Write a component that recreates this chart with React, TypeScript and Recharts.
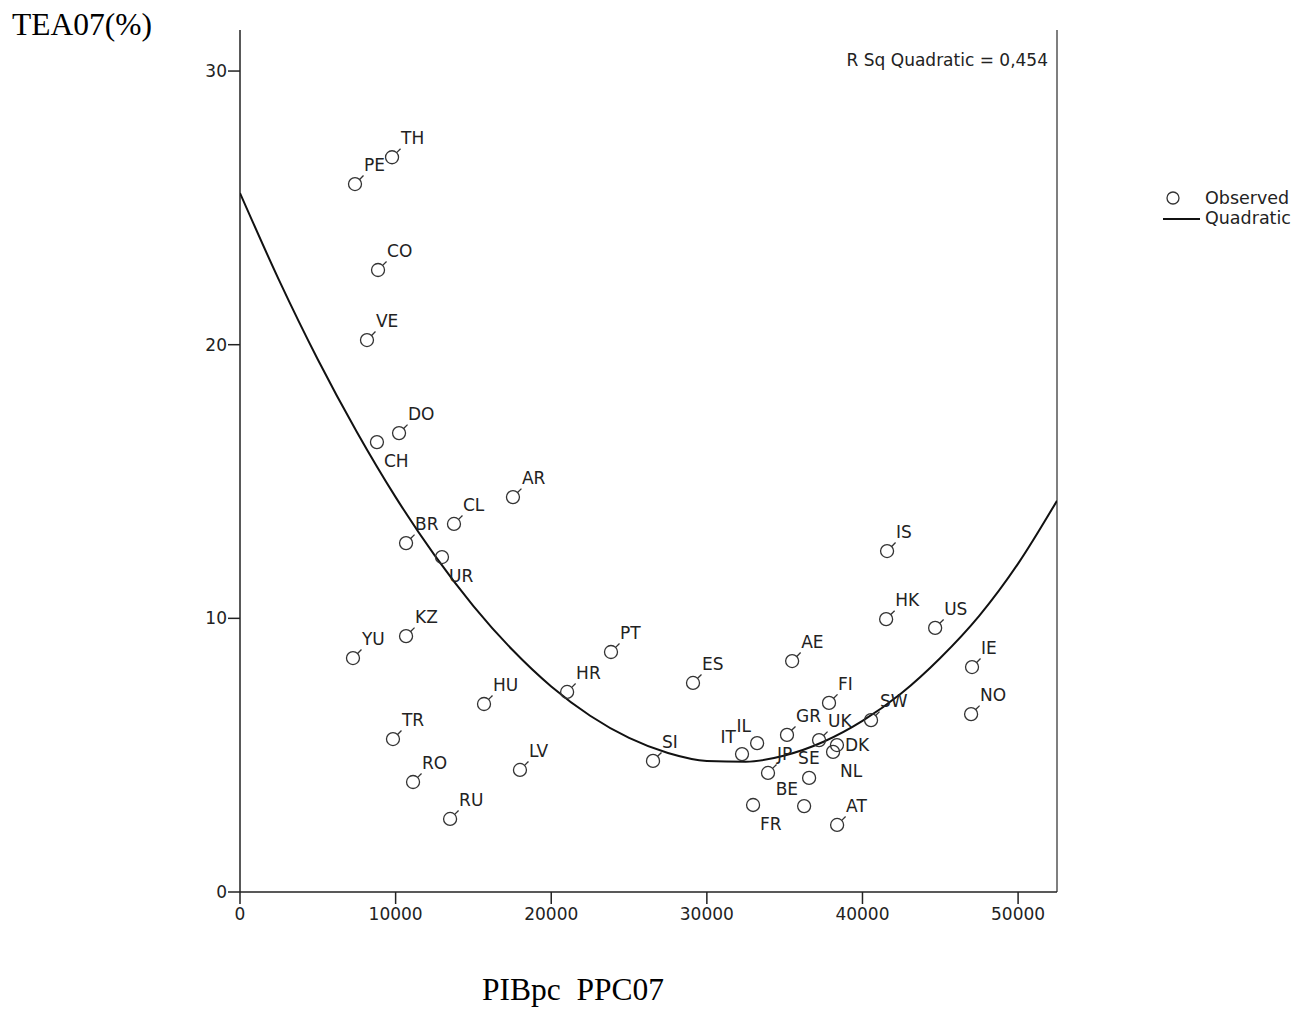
import React from "react";
import { ScatterChart, Scatter, XAxis, YAxis, ReferenceLine } from "recharts";

// GEM 2007 country codes, GDP per capita (PPP) and TEA rate
const countries = [
  "TH", "PE", "CO", "VE", "CH", "DO", "AR", "CL", "BR", "UR",
  "YU", "KZ", "HU", "HR", "TR", "RO", "LV", "RU", "PT", "ES",
  "AE", "SI", "IT", "IL", "GR", "FI", "JP", "SE", "BE", "FR",
  "AT", "UK", "DK", "NL", "SW", "IS", "HK", "US", "IE", "NO",
];
const gdpPc = [
  9770, 7390, 8870, 8160, 8800, 10220, 17540, 13750, 10670, 12980,
  7260, 10670, 15680, 21020, 9830, 11120, 17990, 13500, 23840, 29110,
  35480, 26540, 32260, 33230, 35150, 37850, 33930, 36570, 36250, 32970,
  38370, 37210, 38360, 38110, 40550, 41580, 41520, 44670, 47040, 46980,
];
const tea = [
  26.85, 25.87, 22.73, 20.17, 16.44, 16.77, 14.43, 13.45, 12.75, 12.24,
  8.55, 9.35, 6.87, 7.31, 5.59, 4.02, 4.46, 2.67, 8.77, 7.64,
  8.44, 4.79, 5.04, 5.44, 5.74, 6.91, 4.35, 4.17, 3.14, 3.18,
  2.45, 5.55, 5.37, 5.12, 6.28, 12.46, 9.97, 9.65, 8.22, 6.5,
];

// quadratic fit line
const fitX = [
  0, 2500, 5000, 7500, 10000, 12500, 15000, 17500, 20000, 22500, 25000,
  27500, 30000, 32500, 35000, 37500, 40000, 42500, 45000, 47500, 50000, 52500,
];
const fitY = [
  25.54, 22.37, 19.46, 16.82, 14.43, 12.31, 10.45, 8.85, 7.51, 6.44, 5.63,
  5.08, 4.79, 4.76, 4.99, 5.49, 6.25, 7.26, 8.55, 10.09, 12.0, 14.3,
];

const xTicks = [0, 10000, 20000, 30000, 40000, 50000];
const yTicks = [0, 10, 20, 30];

const points = countries.map((code, i) => ({ code, x: gdpPc[i], y: tea[i] }));
const fit = fitX.map((x, i) => ({ x, y: fitY[i] }));

// where SPSS put the label when it could not go upper-right
const labelSpot: Record<string, string> = {
  CH: "below",
  UR: "below",
  FR: "below",
  NL: "below",
  IT: "left",
  IL: "left",
  BE: "left",
  SE: "above",
  DK: "right",
};

const FONT = "DejaVu Sans";
const INK = "#222";

const PointMark = (props: any) => {
  const { cx, cy, payload } = props;
  const spot = labelSpot[payload.code] || "ur";
  let tx = cx + 9;
  let ty = cy - 13;
  let anchor = "start";
  let tick = true;
  if (spot === "below") {
    tx = cx + 7;
    ty = cy + 25;
    tick = false;
  } else if (spot === "left") {
    tx = cx - 6;
    ty = cy - 11;
    anchor = "end";
    tick = false;
  } else if (spot === "above") {
    tx = cx - 11;
    ty = cy - 14;
    tick = false;
  } else if (spot === "right") {
    tx = cx + 8;
    ty = cy + 6;
    tick = false;
  }
  return (
    <g>
      <circle cx={cx} cy={cy} r={6.5} fill="none" stroke="#333" strokeWidth={1.3} />
      {tick && (
        <line x1={cx + 4.6} y1={cy - 4.6} x2={cx + 8.5} y2={cy - 8.5} stroke="#333" strokeWidth={1.3} />
      )}
      <text x={tx} y={ty} textAnchor={anchor} fontSize={17} fill={INK} fontFamily={FONT}>
        {payload.code}
      </text>
    </g>
  );
};

const App = () => {
  return (
    <div style={{ position: "relative", width: 1286, height: 999 }}>
      <div
        style={{
          position: "absolute",
          left: 4,
          top: 1,
          fontFamily: "Liberation Serif",
          fontSize: 31.5,
          lineHeight: "31.5px",
          whiteSpace: "pre",
        }}
      >
        TEA07(%)
      </div>
      <ScatterChart width={1286} height={990} margin={{ top: 22, right: 237, bottom: 76, left: 172 }}>
        <XAxis
          type="number"
          dataKey="x"
          domain={[0, 52500]}
          ticks={xTicks}
          interval={0}
          allowDataOverflow
          height={30}
          tickSize={12}
          tickMargin={4}
          axisLine={{ stroke: INK, strokeWidth: 1.5 }}
          tickLine={{ stroke: INK, strokeWidth: 1.5 }}
          tick={{ fill: INK, fontSize: 17, fontFamily: FONT }}
        />
        <YAxis
          type="number"
          dataKey="y"
          domain={[0, 31.5]}
          ticks={yTicks}
          interval={0}
          allowDataOverflow
          width={60}
          tickSize={12}
          tickMargin={1}
          axisLine={{ stroke: INK, strokeWidth: 1.5 }}
          tickLine={{ stroke: INK, strokeWidth: 1.5 }}
          tick={{ fill: INK, fontSize: 17, fontFamily: FONT }}
        />
        <ReferenceLine x={52500} stroke="#555" strokeWidth={1.5} />
        <Scatter
          data={fit}
          fill="#111"
          line={{ stroke: "#111", strokeWidth: 2 }}
          lineJointType="monotoneX"
          shape={() => <g />}
          isAnimationActive={false}
        />
        <Scatter data={points} shape={PointMark} isAnimationActive={false} />
      </ScatterChart>
      <div
        style={{
          position: "absolute",
          right: 1286 - 1040,
          top: 42,
          fontFamily: FONT,
          fontSize: 17,
          lineHeight: "20px",
          color: INK,
          whiteSpace: "pre",
        }}
      >
        R Sq Quadratic = 0,454
      </div>
      <svg style={{ position: "absolute", left: 1150, top: 175 }} width={136} height={50}>
        <circle cx={15} cy={15} r={6} fill="none" stroke="#333" strokeWidth={1.3} />
        <text x={47} y={21} fontSize={17.5} fill={INK} fontFamily={FONT}>
          Observed
        </text>
        <line x1={5} y1={36} x2={42} y2={36} stroke="#111" strokeWidth={2} />
        <text x={47} y={41} fontSize={17.5} fill={INK} fontFamily={FONT}>
          Quadratic
        </text>
      </svg>
      <div
        style={{
          position: "absolute",
          left: 474,
          top: 966,
          fontFamily: "Liberation Serif",
          fontSize: 31.5,
          lineHeight: "31.5px",
          whiteSpace: "pre",
        }}
      >
        PIBpc  PPC07
      </div>
    </div>
  );
};

export default App;
